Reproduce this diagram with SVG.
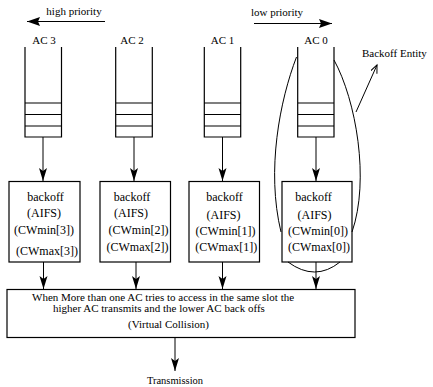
<svg xmlns="http://www.w3.org/2000/svg" width="433" height="387" viewBox="0 0 433 387">
<style>
text{font-family:"Liberation Serif","Times New Roman",serif;fill:#000}
.lbl{font-size:11px;text-anchor:middle}
.bx{font-size:12px;text-anchor:middle}
.big{font-size:11px}
.ln{stroke:#000;stroke-width:1;fill:none}
.q{stroke:#000;stroke-width:1.2;fill:none}
.box{stroke:#000;stroke-width:1.2;fill:#fff}
</style>
<defs>
<marker id="ah" markerUnits="userSpaceOnUse" markerWidth="14" markerHeight="10" refX="13" refY="4" orient="auto">
<path d="M0,0 L13,4 L0,8 L3,4 z" fill="#000"/>
</marker>
<marker id="ahb" markerUnits="userSpaceOnUse" markerWidth="14" markerHeight="10" refX="13" refY="4.5" orient="auto">
<path d="M0,0 L13,4.5 L0,9 L2,4.5 z" fill="#000"/>
</marker>
<marker id="aho" markerUnits="userSpaceOnUse" markerWidth="10" markerHeight="10" refX="8" refY="3.5" orient="auto">
<path d="M0,0 L8,3.5 L0,7" fill="none" stroke="#000" stroke-width="1"/>
</marker>
</defs>

<g id="priority">
<text x="74" y="15" class="lbl">high priority</text>
<line x1="105" y1="21.5" x2="27" y2="21.5" class="ln" marker-end="url(#ahb)"/>
<text x="277" y="16" class="lbl">low priority</text>
<line x1="254" y1="23.5" x2="332" y2="23.5" class="ln" marker-end="url(#ahb)"/>
</g>

<g id="ac3">
<text x="44" y="44" class="lbl">AC 3</text>
<path d="M25,47 V137 H61.5 V47 M25,103 H61.5 M25,114.5 H61.5 M25,126 H61.5" class="q"/>
<rect x="9" y="181.5" width="71" height="80.5" class="box"/>
<text x="45.5" y="201" class="bx">backoff</text>
<text x="44" y="217" class="bx">(AIFS)</text>
<text x="44" y="234" class="bx">(CWmin[3])</text>
<text x="47" y="255" class="bx">(CWmax[3])</text>
</g>

<g id="ac2">
<text x="132" y="44" class="lbl">AC 2</text>
<path d="M115.7,47 V137 H152.3 V47 M115.7,103 H152.3 M115.7,114.5 H152.3 M115.7,126 H152.3" class="q"/>
<rect x="100" y="181.5" width="70.5" height="80.5" class="box"/>
<text x="132" y="201" class="bx">backoff</text>
<text x="131" y="217" class="bx">(AIFS)</text>
<text x="138.5" y="234" class="bx">(CWmin[2])</text>
<text x="137.5" y="251" class="bx">(CWmax[2])</text>
</g>

<g id="ac1">
<text x="222.5" y="44" class="lbl">AC 1</text>
<path d="M204.3,47 V137 H240.7 V47 M204.3,103 H240.7 M204.3,114.5 H240.7 M204.3,126 H240.7" class="q"/>
<rect x="189" y="181.5" width="70.5" height="80.5" class="box"/>
<text x="224.5" y="201" class="bx">backoff</text>
<text x="223.5" y="219" class="bx">(AIFS)</text>
<text x="225.5" y="235" class="bx">(CWmin[1])</text>
<text x="226.3" y="251" class="bx">(CWmax[1])</text>
</g>

<g id="ac0">
<text x="316" y="44" class="lbl">AC 0</text>
<path d="M297.7,47 V137 H334 V47 M297.7,103 H334 M297.7,114.5 H334 M297.7,126 H334" class="q"/>
<rect x="282" y="181.5" width="70" height="80.5" class="box"/>
<text x="313.5" y="201" class="bx">backoff</text>
<text x="314.5" y="219" class="bx">(AIFS)</text>
<text x="318" y="235" class="bx">(CWmin[0])</text>
<text x="319" y="251" class="bx">(CWmax[0])</text>
</g>

<g id="backoff-entity">
<path d="M296.5,57 C280,100 266,170 281,232" class="ln"/>
<path d="M334,60 C356,100 370,180 352,232" class="ln"/>
<path d="M288,262 Q315,282 340,262" class="ln"/>
<text x="362" y="57" style="font-size:11px">Backoff Entity</text>
<line x1="356" y1="112" x2="377" y2="65" class="ln" marker-end="url(#aho)"/>
</g>

<g id="arbiter">
<rect x="7" y="289.5" width="348" height="48" class="box"/>
<text x="32" y="301" class="big">When More than one AC tries to access in the same slot the</text>
<text x="53" y="312" class="big">higher AC transmits and the lower AC back offs</text>
<text x="128" y="328" class="big">(Virtual Collision)</text>
</g>

<g id="transmission">
<text x="175" y="384" class="lbl" style="font-size:10.5px">Transmission</text>
</g>

<g id="connectors">
<line x1="43" y1="137" x2="43" y2="181" class="ln" marker-end="url(#ah)"/>
<line x1="134" y1="137" x2="134" y2="181" class="ln" marker-end="url(#ah)"/>
<line x1="222.5" y1="137" x2="222.5" y2="181" class="ln" marker-end="url(#ah)"/>
<line x1="316" y1="137" x2="316" y2="181" class="ln" marker-end="url(#ah)"/>
<line x1="43.5" y1="262" x2="43.5" y2="289" class="ln" marker-end="url(#ah)"/>
<line x1="136" y1="262" x2="136" y2="289" class="ln" marker-end="url(#ah)"/>
<line x1="222.5" y1="262" x2="222.5" y2="289" class="ln" marker-end="url(#ah)"/>
<line x1="316" y1="262" x2="316" y2="289" class="ln" marker-end="url(#ah)"/>
<line x1="175" y1="337.5" x2="175" y2="371" class="ln" marker-end="url(#ah)"/>
</g>
</svg>
